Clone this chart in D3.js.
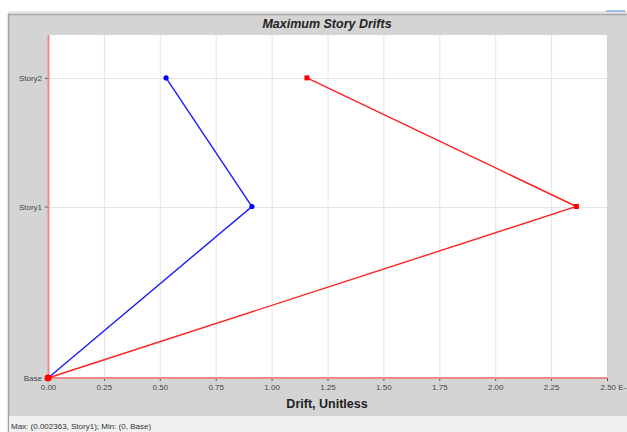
<!DOCTYPE html>
<html>
<head>
<meta charset="utf-8">
<script src="https://cdn.jsdelivr.net/npm/d3@7"></script>
<style>
  html, body { margin: 0; padding: 0; background: #ffffff; }
  svg { display: block; font-family: "Liberation Sans", Arial, sans-serif; }
</style>
</head>
<body>
<svg id="chart" width="627" height="432"></svg>
<script>
// Story levels and their elevations (used to place each story on the vertical axis)
const stories = ["Base", "Story1", "Story2"];
const elevations = [0, 4, 7];

// Maximum drift per story (x 1E-3)
const driftX = [0, 0.912, 0.528];
const driftY = [0, 2.363, 1.158];

// Horizontal tick values and their labels
const xTicks = [0, 0.25, 0.5, 0.75, 1.0, 1.25, 1.5, 1.75, 2.0, 2.25, 2.5];
const xTickLabels = ["0.00", "0.25", "0.50", "0.75", "1.00", "1.25", "1.50", "1.75", "2.00", "2.25", "2.50 E-"];

const svg = d3.select("#chart");
const W = 627, H = 432;
const plot = { left: 48, right: 607, top: 35, bottom: 378 };

// Window panels
svg.append("rect").attr("x", 0).attr("y", 0).attr("width", W).attr("height", H).attr("fill", "#ffffff");
svg.append("rect").attr("x", 8).attr("y", 11).attr("width", W - 8).attr("height", 3).attr("fill", "#e6e6e6");
svg.append("rect").attr("x", 8).attr("y", 14).attr("width", W - 8).attr("height", 402).attr("fill", "#d4d4d4");
svg.append("line").attr("x1", 8).attr("x2", W).attr("y1", 14.5).attr("y2", 14.5).attr("stroke", "#a6a6a6").attr("stroke-width", 1.5);
svg.append("line").attr("x1", 8.5).attr("x2", 8.5).attr("y1", 14).attr("y2", H).attr("stroke", "#a0a0a0").attr("stroke-width", 1.5);
svg.append("rect").attr("x", 9).attr("y", 416).attr("width", W - 9).attr("height", H - 416).attr("fill", "#f0f0f0");
svg.append("line").attr("x1", 606).attr("x2", 625).attr("y1", 11).attr("y2", 11).attr("stroke", "#7fb0e6").attr("stroke-width", 1.5);

// Scales
const x = d3.scaleLinear().domain([0, 2.5]).range([plot.left, plot.right]);
const y = d3.scaleLinear().domain([0, 8]).range([plot.bottom, plot.top]);

// Plot area
svg.append("rect")
  .attr("x", plot.left).attr("y", plot.top)
  .attr("width", plot.right - plot.left).attr("height", plot.bottom - plot.top)
  .attr("fill", "#ffffff");

// Grid lines
const grid = svg.append("g");
grid.selectAll("line.vx").data(xTicks.slice(1, -1)).join("line")
  .attr("x1", d => x(d) + 0.5).attr("x2", d => x(d) + 0.5)
  .attr("y1", plot.top).attr("y2", plot.bottom)
  .attr("stroke", "#e4e4e4").attr("stroke-width", 1);
grid.selectAll("line.hy").data(elevations.slice(1)).join("line")
  .attr("x1", plot.left).attr("x2", plot.right)
  .attr("y1", d => Math.round(y(d)) + 0.5).attr("y2", d => Math.round(y(d)) + 0.5)
  .attr("stroke", "#e4e4e4").attr("stroke-width", 1);

// Axes
const xAxis = d3.axisBottom(x).tickValues(xTicks).tickSize(3).tickPadding(3)
  .tickFormat((d, i) => xTickLabels[i]);
const gx = svg.append("g").attr("transform", `translate(0,${plot.bottom})`).call(xAxis);
gx.select(".domain").remove();
gx.selectAll(".tick line").attr("stroke", "#555");
gx.selectAll(".tick text").attr("fill", "#444").attr("font-size", 8)
  .attr("text-anchor", (d, i) => i === xTicks.length - 1 ? "start" : "middle")
  .attr("dx", (d, i) => i === xTicks.length - 1 ? -7 : 0);

const yAxis = d3.axisLeft(y).tickValues(elevations).tickSize(3).tickPadding(3)
  .tickFormat((d, i) => stories[i]);
const gy = svg.append("g").attr("transform", `translate(${plot.left},0)`).call(yAxis);
gy.select(".domain").remove();
gy.selectAll(".tick line").attr("stroke", "#555");
gy.selectAll(".tick text").attr("fill", "#444").attr("font-size", 8);

// Red axis frame lines
svg.append("line").attr("x1", plot.left + 0.5).attr("x2", plot.left + 0.5)
  .attr("y1", plot.top).attr("y2", plot.bottom)
  .attr("stroke", "#f08a8a").attr("stroke-width", 2);
svg.append("line").attr("x1", plot.left).attr("x2", plot.right)
  .attr("y1", plot.bottom).attr("y2", plot.bottom)
  .attr("stroke", "#f08a8a").attr("stroke-width", 2);

// Drift series
const line = d3.line().x(d => x(d.v)).y(d => y(d.e));
const seriesX = elevations.map((e, i) => ({ e, v: driftX[i] }));
const seriesY = elevations.map((e, i) => ({ e, v: driftY[i] }));

svg.append("path").datum(seriesY).attr("d", line)
  .attr("fill", "none").attr("stroke", "#ff2020").attr("stroke-width", 1.4);
svg.append("path").datum(seriesX).attr("d", line)
  .attr("fill", "none").attr("stroke", "#1a1aff").attr("stroke-width", 1.4);

svg.selectAll("rect.my").data(seriesY).join("rect")
  .attr("x", d => x(d.v) - 2.5).attr("y", d => y(d.e) - 2.5)
  .attr("width", 5).attr("height", 5).attr("fill", "#ff0000");
svg.selectAll("circle.mx").data(seriesX).join("circle")
  .attr("cx", d => x(d.v)).attr("cy", d => y(d.e)).attr("r", 2.6).attr("fill", "#0000ff");
// Base point marker
svg.append("circle").attr("cx", x(driftY[0])).attr("cy", y(elevations[0])).attr("r", 3.5).attr("fill", "#ff0000");

// Titles
svg.append("text").attr("x", 327).attr("y", 28).attr("text-anchor", "middle")
  .attr("font-size", 12.5).attr("font-weight", "bold").attr("font-style", "italic")
  .attr("fill", "#222").text("Maximum Story Drifts");
svg.append("text").attr("x", 327).attr("y", 408).attr("text-anchor", "middle")
  .attr("font-size", 12.5).attr("font-weight", "bold")
  .attr("fill", "#222").text("Drift, Unitless");

// Status line
svg.append("text").attr("x", 11).attr("y", 429).attr("font-size", 8)
  .attr("fill", "#333").text("Max: (0.002363, Story1);   Min: (0, Base)");
</script>
</body>
</html>
